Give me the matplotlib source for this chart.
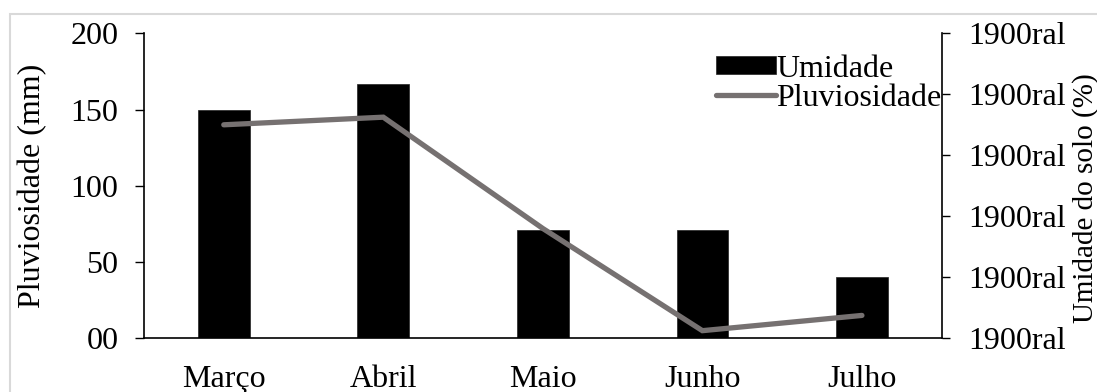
import matplotlib
matplotlib.use("Agg")
import matplotlib.pyplot as plt
from matplotlib.patches import Rectangle
from matplotlib.ticker import FixedLocator, FixedFormatter

# Monthly data
months = ["Março", "Abril", "Maio", "Junho", "Julho"]
pluviosidade = [140, 145, 72, 5, 15]          # mm (left axis)
umidade = [75, 83.5, 35.5, 35.5, 20]          # % (right axis)
left_ticks = [0, 50, 100, 150, 200]
left_labels = ["00", "50", "100", "150", "200"]
right_ticks = [0, 20, 40, 60, 80, 100]
right_labels = ["1900ral"] * len(right_ticks)

plt.rcParams["font.family"] = ["Liberation Serif", "DejaVu Serif"]
FS = 23

W, H = 1097, 392
fig = plt.figure(figsize=(W / 100, H / 100), dpi=100)

# light frame around the chart area
fig.patches.append(Rectangle((10 / W, -0.1), 1.2, (H - 14) / H + 0.1,
                             transform=fig.transFigure, fill=False,
                             edgecolor="#d9d9d9", linewidth=1.5))

ax = fig.add_axes([144 / W, (H - 338.3) / H, (941.7 - 144) / W, (338.3 - 33.3) / H])
ax2 = ax.twinx()

x = range(len(months))
bars = ax2.bar(x, umidade, width=0.324, color="black", edgecolor="#222222",
               linewidth=0.5, label="Umidade")
line, = ax.plot(x, pluviosidade, color="#767171", linewidth=3.8,
                solid_capstyle="round", solid_joinstyle="miter", label="Pluviosidade")

# keep the rainfall line above the bars
ax.set_zorder(ax2.get_zorder() + 1)
ax.patch.set_visible(False)

ax.set_xlim(-0.5, len(months) - 0.5)
ax.set_ylim(0, 200)
ax2.set_ylim(0, 100)

ax.set_xticks(list(x))
ax.set_xticklabels(months, fontsize=FS)
ax.tick_params(axis="x", length=0, pad=19)

ax.yaxis.set_major_locator(FixedLocator(left_ticks))
ax.yaxis.set_major_formatter(FixedFormatter(left_labels))
ax.tick_params(axis="y", labelsize=FS, length=6.5, width=1, pad=12, direction="out")

ax2.yaxis.set_major_locator(FixedLocator(right_ticks))
ax2.yaxis.set_major_formatter(FixedFormatter(right_labels))
ax2.tick_params(axis="y", labelsize=FS, length=6, width=1, pad=13, direction="out")

for a in (ax, ax2):
    a.spines["top"].set_visible(False)
    for s in ("left", "right", "bottom"):
        a.spines[s].set_linewidth(1.2)
ax.spines["right"].set_visible(False)
ax2.spines["left"].set_visible(False)
ax2.spines["bottom"].set_visible(False)

ax.set_ylabel("Pluviosidade (mm)", fontsize=FS)
ax.yaxis.set_label_coords(-0.121, 0.5)
ax2.set_ylabel("Umidade do solo (%)", fontsize=21, rotation=90)
ax2.yaxis.set_label_coords(1.163, 0.46)

leg = ax.legend([bars, line], ["Umidade", "Pluviosidade"], loc="upper right",
                bbox_to_anchor=(1.0, 0.93), frameon=False, fontsize=FS,
                handlelength=1.9, handleheight=0.5, handletextpad=0.0,
                labelspacing=0.0, borderaxespad=0.0, borderpad=0.0)

fig.savefig("out.png", dpi=100)
